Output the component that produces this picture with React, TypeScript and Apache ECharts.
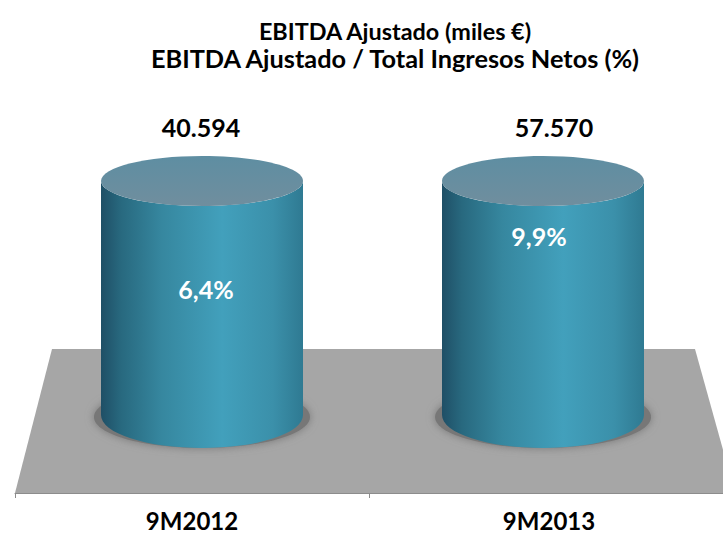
import React, { useEffect, useRef } from "react";
import * as echarts from "echarts";

const titleLines = ["EBITDA Ajustado (miles €)", "EBITDA Ajustado / Total Ingresos Netos (%)"];
const categories = ["9M2012", "9M2013"];
const amountLabels = ["40.594", "57.570"];
const ratioLabels = ["6,4%", "9,9%"];
// In the picture both cylinders are drawn at the same height, whatever their labels say.
const columnHeights = [100, 100];
// Height, on the same axis, at which each white ratio label sits.
const ratioLabelHeights = [53.8, 76.3];

const FONT = "Lato, Carlito, Calibri, sans-serif";
const shifts = [10, -3];
const amountShifts = [9, 8];
const labelShifts = [14, -7];
const RX = 101;
const RY_TOP = 25;
const RY_BASE = 33;

export default function App() {
  const ref = useRef<HTMLDivElement>(null);
  useEffect(() => {
    const chart = echarts.init(ref.current!, undefined, { renderer: "svg" });
    const bodyFill = new echarts.graphic.LinearGradient(0, 0, 1, 0, [
      { offset: 0, color: "#1f4f66" },
      { offset: 0.1, color: "#28697f" },
      { offset: 0.3, color: "#36879f" },
      { offset: 0.6, color: "#42a0bc" },
      { offset: 0.85, color: "#3b90aa" },
      { offset: 1, color: "#2f7a92" },
    ]);
    const topFill = new echarts.graphic.LinearGradient(0, 0, 0, 1, [
      { offset: 0, color: "#5e8ea2" },
      { offset: 1, color: "#708e9e" },
    ]);
    const labelFont = { fontFamily: FONT, fontWeight: "bold" as const, fontSize: 24, lineHeight: 24, color: "#000" };
    chart.setOption({
      animation: false,
      backgroundColor: "#ffffff",
      title: {
        text: titleLines.map((t, i) => `{l${i}|${t}}`).join("\n"),
        left: 390,
        top: 12,
        textAlign: "center",
        textStyle: {
          fontFamily: FONT,
          fontWeight: "bold",
          color: "#000",
          rich: {
            l0: { fontFamily: FONT, fontWeight: "bold", fontSize: 23.4, lineHeight: 27, color: "#000" },
            l1: { fontFamily: FONT, fontWeight: "bold", fontSize: 25.3, lineHeight: 27, color: "#000" },
          },
        },
      },
      grid: { left: 15, width: 714, top: 181, bottom: 41 },
      xAxis: {
        type: "category",
        data: categories,
        axisLine: { onZero: false, lineStyle: { color: "#8c8c8c", width: 1 } },
        axisTick: { show: true, alignWithLabel: false, length: 5, lineStyle: { color: "#8c8c8c" } },
        axisLabel: {
          ...labelFont,
          margin: 15,
          formatter: (v: string, i: number) => (i === 1 ? `{b|${v}}` : v),
          rich: { b: { ...labelFont, padding: [0, 0, 0, 6] } },
        },
      },
      yAxis: { type: "value", min: -33.33, max: 100, show: false, splitLine: { show: false } },
      graphic: [
        {
          type: "polygon",
          z: 0,
          shape: { points: [[52, 349], [695, 349], [735, 493], [15, 493]] },
          style: { fill: "#a6a6a6" },
        },
      ],
      series: [
        {
          type: "custom",
          z: 2,
          clip: false,
          data: columnHeights.map((h, i) => [i, h]),
          renderItem: (params: any, api: any) => {
            const i = params.dataIndex;
            const top = api.coord([api.value(0), api.value(1)]);
            const base = api.coord([api.value(0), 0]);
            const cx = top[0] + shifts[i];
            const d =
              `M${cx - RX} ${top[1]} L${cx - RX} ${base[1]} ` +
              `A${RX} ${RY_BASE} 0 0 0 ${cx + RX} ${base[1]} L${cx + RX} ${top[1]} ` +
              `A${RX} ${RY_TOP} 0 0 1 ${cx - RX} ${top[1]} Z`;
            const ratioY = api.coord([api.value(0), ratioLabelHeights[i]])[1];
            return {
              type: "group",
              children: [
                {
                  type: "ellipse",
                  shape: { cx, cy: base[1] + 2, rx: RX + 7, ry: RY_BASE - 2 },
                  style: { fill: "#777777", shadowBlur: 9, shadowColor: "#777777" },
                },
                { type: "path", shape: { pathData: d }, style: { fill: bodyFill } },
                {
                  type: "ellipse",
                  shape: { cx, cy: top[1], rx: RX, ry: RY_TOP },
                  style: { fill: topFill },
                },
                {
                  type: "text",
                  style: {
                    x: top[0] + amountShifts[i],
                    y: 127,
                    text: amountLabels[i],
                    align: "center",
                    verticalAlign: "middle",
                    fill: "#000",
                    font: `bold 25px ${FONT}`,
                  },
                },
                {
                  type: "text",
                  style: {
                    x: top[0] + labelShifts[i],
                    y: ratioY,
                    text: ratioLabels[i],
                    align: "center",
                    verticalAlign: "middle",
                    fill: "#fff",
                    font: `bold 25px ${FONT}`,
                  },
                },
              ],
            };
          },
        },
      ],
    });
    return () => chart.dispose();
  }, []);
  return <div ref={ref} style={{ position: "absolute", left: 0, top: 0, width: 723, height: 534 }} />;
}
